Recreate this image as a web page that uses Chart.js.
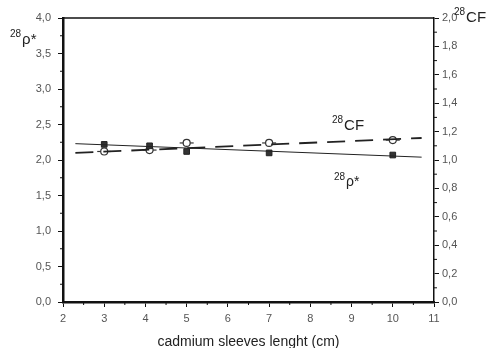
<!DOCTYPE html>
<html>
<head>
<meta charset="utf-8">
<script src="https://cdn.jsdelivr.net/npm/chart.js@4/dist/chart.umd.min.js"></script>
<style>
  body { margin: 0; background: #fff; }
  #wrap { width: 490px; height: 348px; }
</style>
</head>
<body>
<div id="wrap"><canvas id="chart" width="490" height="348"></canvas></div>
<script>
// sleeve lengths (cm)
var rhoX = [3, 4.1, 5, 7, 10];
var rhoY = [2.22, 2.20, 2.12, 2.10, 2.07];
var cfX = [3, 4.1, 5, 7, 10];
var cfY = [1.06, 1.07, 1.12, 1.12, 1.14];
// fitted lines (end points)
var rhoFitX = [2.3, 10.7];
var rhoFitY = [2.23, 2.04];
var cfFitX = [2.3, 10.7];
var cfFitY = [1.05, 1.155];

var pts = (xs, ys) => xs.map((x, i) => ({ x: x, y: ys[i] }));
var comma = v => v.toFixed(1).replace('.', ',');

// minor ticks + top frame + inner labels
var extras = {
    id: 'extras',
    afterDraw(chart) {
        var ctx = chart.ctx, a = chart.chartArea;
        var sx = chart.scales.x, sy = chart.scales.y, sy1 = chart.scales.y1;
        ctx.save();
        ctx.strokeStyle = '#111';
        ctx.lineWidth = 1.5;
        ctx.beginPath();
        ctx.moveTo(a.left, a.top);
        ctx.lineTo(a.right, a.top);
        ctx.stroke();
        ctx.lineWidth = 1;
        ctx.beginPath();
        for (var v = 2.5; v < 11; v += 1) {
            var px = sx.getPixelForValue(v);
            ctx.moveTo(px, a.bottom); ctx.lineTo(px, a.bottom + 3);
        }
        for (var v = 0.25; v < 4; v += 0.5) {
            var py = sy.getPixelForValue(v);
            ctx.moveTo(a.left, py); ctx.lineTo(a.left - 3, py);
        }
        for (var v = 0.1; v < 2; v += 0.2) {
            var py = sy1.getPixelForValue(v);
            ctx.moveTo(a.right, py); ctx.lineTo(a.right + 3, py);
        }
        ctx.stroke();

        var sup = (x, y, s, main, big) => {
            ctx.fillStyle = '#222';
            ctx.textBaseline = 'alphabetic';
            ctx.textAlign = 'left';
            ctx.font = '10px "Liberation Sans", Arial, sans-serif';
            ctx.fillText(s, x, y - big * 0.45);
            var w = ctx.measureText(s).width;
            ctx.font = big + 'px "Liberation Sans", Arial, sans-serif';
            ctx.fillText(main, x + w + 1, y);
        };
        sup(10, 44, '28', 'ρ*', 15);
        sup(454, 22, '28', 'CF', 15);
        sup(332, 130, '28', 'CF', 15);
        sup(334, 186, '28', 'ρ*', 14);
        ctx.restore();
    }
};

new Chart(document.getElementById('chart'), {
    type: 'scatter',
    data: {
        datasets: [{
            label: 'rho fit',
            type: 'line',
            data: pts(rhoFitX, rhoFitY),
            yAxisID: 'y',
            borderColor: '#222',
            borderWidth: 1,
            pointRadius: 0
        }, {
            label: 'CF fit',
            type: 'line',
            data: pts(cfFitX, cfFitY),
            yAxisID: 'y1',
            borderColor: '#222',
            borderWidth: 1.8,
            borderDash: [18, 10],
            pointRadius: 0
        }, {
            label: 'rho',
            data: pts(rhoX, rhoY),
            yAxisID: 'y',
            pointStyle: 'rect',
            pointRadius: 4,
            backgroundColor: '#333',
            borderColor: '#222'
        }, {
            label: 'CF',
            data: pts(cfX, cfY),
            yAxisID: 'y1',
            pointStyle: 'circle',
            pointRadius: 3.5,
            backgroundColor: '#fff',
            borderColor: '#333',
            borderWidth: 1.2
        }, {
            label: 'CF bars',
            data: pts(cfX, cfY),
            yAxisID: 'y1',
            pointStyle: 'line',
            pointRadius: 7,
            borderColor: '#333',
            borderWidth: 1.2
        }]
    },
    options: {
        responsive: false,
        animation: false,
        layout: { padding: { top: 18, right: 0, left: 0, bottom: 0 } },
        plugins: { legend: { display: false }, tooltip: { enabled: false } },
        scales: {
            x: {
                type: 'linear',
                min: 2, max: 11,
                afterFit: s => { s.height = 46; },
                grid: { drawOnChartArea: false, drawTicks: true, tickLength: 5, color: '#111' },
                border: { color: '#111', width: 2.5 },
                ticks: { stepSize: 1, color: '#555', padding: 5, font: { size: 11, family: '"Liberation Sans", Arial' } },
                title: { display: true, text: 'cadmium sleeves lenght (cm)', color: '#222', padding: { top: 0, bottom: -3 }, font: { size: 14, family: '"Liberation Sans", Arial' } }
            },
            y: {
                position: 'left',
                min: 0, max: 4,
                afterFit: s => { s.width = 63; },
                grid: { drawOnChartArea: false, drawTicks: true, tickLength: 5, color: '#111' },
                border: { color: '#111', width: 2.5 },
                ticks: { stepSize: 0.5, color: '#555', padding: 7, callback: comma, font: { size: 11, family: '"Liberation Sans", Arial' } }
            },
            y1: {
                position: 'right',
                min: 0, max: 2,
                afterFit: s => { s.width = 56; },
                grid: { drawOnChartArea: false, drawTicks: true, tickLength: 5, color: '#111' },
                border: { color: '#111', width: 1.5 },
                ticks: { stepSize: 0.2, color: '#555', padding: 3, callback: comma, font: { size: 11, family: '"Liberation Sans", Arial' } }
            }
        }
    },
    plugins: [extras]
});
</script>
</body>
</html>
